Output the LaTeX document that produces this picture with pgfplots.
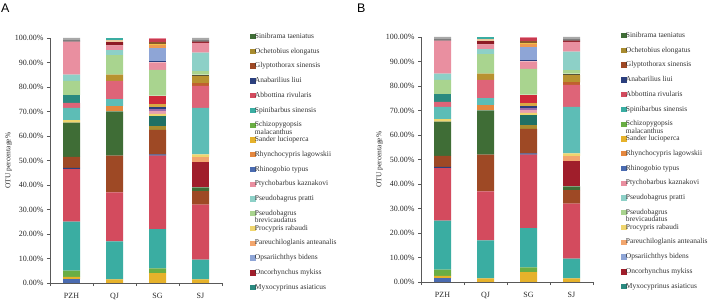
\documentclass[border=0pt]{standalone}
\usepackage{fontspec}
\setmainfont{Liberation Serif}
\setsansfont{Liberation Sans}
\usepackage{pgfplots}
\usepackage{pgfplotstable}
\pgfplotsset{compat=1.18}

% species / layer colours
\definecolor{cblue}{HTML}{4A6BB0}
\definecolor{cgold}{HTML}{E6B22B}
\definecolor{cgreen}{HTML}{6AAE44}
\definecolor{cteal}{HTML}{3AADA2}
\definecolor{cred}{HTML}{D34B5E}
\definecolor{cnavy}{HTML}{2B3F7E}
\definecolor{cbrown}{HTML}{9E4925}
\definecolor{colive}{HTML}{A88B2F}
\definecolor{cdgreen}{HTML}{3F6D36}
\definecolor{cdteala}{HTML}{1F7064}
\definecolor{cdred}{HTML}{A01E2B}
\definecolor{corange}{HTML}{E5883F}
\definecolor{cpeach}{HTML}{F2A66E}
\definecolor{clyellow}{HTML}{EFD56E}
\definecolor{clpinkS}{HTML}{E7A0B0}
\definecolor{cpurple}{HTML}{9B6DAA}
\definecolor{cnavyS}{HTML}{2B3F7E}
\definecolor{cgoldS}{HTML}{D9A844}
\definecolor{clteal2}{HTML}{5DBDB6}
\definecolor{csalmon}{HTML}{DE6478}
\definecolor{ccrimson}{HTML}{CF2A3A}
\definecolor{cbrorange}{HTML}{C0602E}
\definecolor{colive2}{HTML}{B89230}
\definecolor{cdarkthin}{HTML}{4A4A3A}
\definecolor{cdteal}{HTML}{2A8A80}
\definecolor{clgreen}{HTML}{A9D48F}
\definecolor{clteal}{HTML}{8DD0C7}
\definecolor{cpink}{HTML}{E98FA0}
\definecolor{cnavy2}{HTML}{2B3F7E}
\definecolor{clblue}{HTML}{8EA5D6}
\definecolor{corange2}{HTML}{EE9A50}
\definecolor{cdred2}{HTML}{8E1A24}
\definecolor{clgold}{HTML}{EFC04A}
\definecolor{ctan}{HTML}{EBC9A0}
\definecolor{cbrown2}{HTML}{8C5A2A}
\definecolor{cdgray}{HTML}{4A4A4A}
\definecolor{ccrimson2}{HTML}{C83A4E}
\definecolor{ctealtop}{HTML}{3AADA2}
\definecolor{cpinktop}{HTML}{E98FA0}
\definecolor{clgray}{HTML}{A8A8A8}

% relative abundance (%) of each stacked layer at the four sites
\pgfplotstableread{
x blue gold green teal red navy brown olive dgreen dteala dred orange peach lyellow lpinkS purple navyS goldS lteal2 salmon crimson brorange olive2 darkthin dteal lgreen lteal pink navy2 lblue orange2 dred2 lgold tan brown2 dgray crimson2 tealtop pinktop lgray
0 1.5 1.0 2.5 20.0 21.5 0.5 4.5 0.0 14.0 0.0 0.0 0.0 0.0 1.0 0.0 0.0 0.0 0.0 5.0 2.0 0.0 0.0 0.0 0.0 3.3 5.7 2.5 13.5 0.0 0.0 0.0 0.0 0.0 0.0 0.0 0.5 0.0 0.0 0.0 1.0
1 0.0 1.5 0.0 15.5 20.0 0.0 15.0 0.0 18.0 0.0 0.0 2.3 0.0 0.0 0.0 0.0 0.0 0.0 2.7 7.5 0.0 0.0 2.5 0.0 0.0 8.0 2.0 2.0 0.0 0.0 0.0 1.3 0.0 1.0 0.0 0.0 0.0 0.7 0.0 0.0
2 0.0 4.0 2.0 16.0 30.0 0.5 10.0 1.5 0.0 4.0 0.0 0.0 0.0 1.0 1.0 1.0 0.8 1.2 0.0 0.0 3.5 0.0 0.0 0.0 0.0 10.5 0.0 3.0 0.5 5.5 1.0 0.0 0.7 0.0 0.6 0.0 1.2 0.0 0.5 0.0
3 0.0 1.5 0.0 8.0 22.5 0.0 5.5 0.0 1.5 0.0 10.5 0.0 2.0 1.0 0.0 0.0 0.0 0.0 19.0 9.0 0.0 1.0 3.0 0.5 0.0 1.5 7.5 4.0 0.0 0.0 0.0 0.5 0.0 0.0 0.0 0.5 0.0 0.0 0.0 1.0
}\stackdata

\newcommand{\drawstack}{%
  \pgfplotsinvokeforeach{blue,gold,green,teal,red,navy,brown,olive,dgreen,dteala,dred,orange,peach,lyellow,lpinkS,purple,navyS,goldS,lteal2,salmon,crimson,brorange,olive2,darkthin,dteal,lgreen,lteal,pink,navy2,lblue,orange2,dred2,lgold,tan,brown2,dgray,crimson2,tealtop,pinktop,lgray}{%
    \addplot[fill=c##1, draw=none, forget plot] table[x=x, y=##1] {\stackdata};
  }%
}

\newcommand{\twoline}[2]{\raisebox{0pt}[5.5bp][0pt]{\parbox[t]{3cm}{\fontsize{7.5}{7.2}\selectfont #1\\#2}}}

\newcommand{\specieslegend}{%
  \addlegendimage{sq=cdgreen}\addlegendentry{Sinibrama taeniatus}
  \addlegendimage{sq=colive}\addlegendentry{Ochetobius elongatus}
  \addlegendimage{sq=cbrown}\addlegendentry{Glyptothorax sinensis}
  \addlegendimage{sq=cnavy}\addlegendentry{Anabarilius liui}
  \addlegendimage{sq=cred}\addlegendentry{Abbottina rivularis}
  \addlegendimage{sq=cteal}\addlegendentry{Spinibarbus sinensis}
  \addlegendimage{sq=cgreen}\addlegendentry{\twoline{Schizopygopsis}{malacanthus}}
  \addlegendimage{sq=cgold}\addlegendentry{Sander lucioperca}
  \addlegendimage{sq=corange}\addlegendentry{Rhynchocypris lagowskii}
  \addlegendimage{sq=cblue}\addlegendentry{Rhinogobio typus}
  \addlegendimage{sq=cpink}\addlegendentry{Ptychobarbus kaznakovi}
  \addlegendimage{sq=clteal}\addlegendentry{Pseudobagrus pratti}
  \addlegendimage{sq=clgreen}\addlegendentry{\twoline{Pseudobagrus}{brevicaudatus}}
  \addlegendimage{sq=clyellow}\addlegendentry{Procypris rabaudi}
  \addlegendimage{sq=cpeach}\addlegendentry{Pareuchiloglanis anteanalis}
  \addlegendimage{sq=clblue}\addlegendentry{Opsariichthys bidens}
  \addlegendimage{sq=cdred}\addlegendentry{Oncorhynchus mykiss}
  \addlegendimage{sq=cdteal}\addlegendentry{Myxocyprinus asiaticus}
}

\pgfplotsset{
  sq/.style={legend image code/.code={\fill[#1] (0bp,-2.2bp) rectangle (4.4bp,2.2bp);}},
  otustyle/.style={
    scale only axis,
    width=172bp, height=245bp,
    ybar stacked, bar width=17bp,
    xmin=-0.5, xmax=3.5, ymin=0, ymax=100,
    axis x line*=bottom, axis y line*=left,
    axis line style={black!65},
    xtick={0,1,2,3}, xticklabels={PZH,QJ,SG,SJ},
    major x tick style={draw=none},
    minor xtick={-0.5,0.5,1.5,2.5,3.5},
    minor x tick style={black!65},
    minor tick length=3bp,
    ytick={0,10,...,100},
    yticklabels={0.00\%,10.00\%,20.00\%,30.00\%,40.00\%,50.00\%,60.00\%,70.00\%,80.00\%,90.00\%,100.00\%},
    y tick style={black!65},
    tick align=outside, major tick length=3bp,
    tick label style={font=\fontsize{8}{9}\selectfont, text=black!85},
    xticklabel style={yshift=-4bp},
    ylabel={OTU percentage\%},
    ylabel style={font=\fontsize{7.5}{9}\selectfont, at={(axis description cs:-0.24,0.5)}, anchor=center, text=black!85},
    legend cell align=left,
    legend style={
      at={(1.145,1.03)}, anchor=north west,
      draw=none, fill=none,
      row sep=7.76bp,
      nodes={inner sep=0pt, text height=5.5bp, text depth=1.5bp,
             font=\fontsize{7.5}{9}\selectfont, text=black!80},
      /tikz/every even column/.append style={column sep=1.5bp},
    },
  }
}

\begin{document}
\begin{tikzpicture}
\useasboundingbox (0,0) rectangle (709bp,300bp);

\node[font=\sffamily\fontsize{12.5}{13}\selectfont, anchor=base west, inner sep=0] at (1bp,287bp) {A};
\node[font=\sffamily\fontsize{12.5}{13}\selectfont, anchor=base west, inner sep=0] at (357bp,287bp) {B};

\begin{axis}[otustyle, at={(50bp,17bp)}, anchor=south west]
  \drawstack
  \specieslegend
\end{axis}

\begin{axis}[otustyle, at={(421bp,18bp)}, anchor=south west]
  \drawstack
  \specieslegend
\end{axis}
\end{tikzpicture}
\end{document}
